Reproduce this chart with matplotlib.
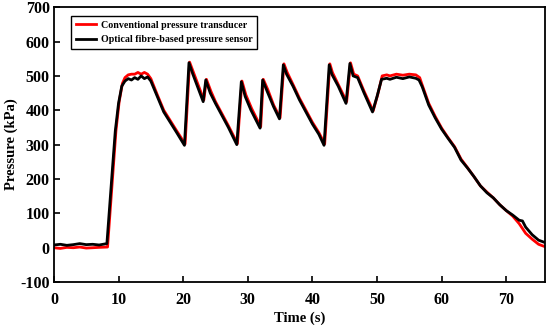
import matplotlib
matplotlib.use('Agg')
import matplotlib.pyplot as plt

# optical fibre sensor (black)
t_opt = [0, 1, 2, 3, 4, 5, 6, 7, 8.2, 9.0, 9.5, 10, 10.5, 11, 11.5, 12, 12.5, 13, 13.5,
         14, 14.5, 15, 16, 17, 18, 19, 20.2, 20.9, 21.5, 22.3, 23.1, 23.5, 24.2, 25, 26,
         27, 28.3, 29.0, 29.6, 30.5, 31.9, 32.3, 33, 34, 34.9, 35.5, 36, 37, 38, 39, 40,
         41, 41.8, 42.6, 43, 44, 45.2, 45.8, 46.3, 47, 48, 49.3, 50, 50.7, 51.5, 52, 53,
         54, 55, 56, 56.5, 57, 58, 59, 60, 61, 62, 63, 64, 65, 66, 67, 68, 69, 70, 71,
         72, 72.5, 73, 74, 75, 76]
p_opt = [8, 10, 7, 9, 12, 9, 10, 8, 12, 215, 340, 420, 470, 485, 492, 488, 495, 490, 500,
         492, 497, 485, 440, 395, 365, 335, 298, 538, 505, 465, 425, 488, 450, 420, 385,
         350, 300, 483, 440, 400, 348, 488, 455, 410, 375, 532, 505, 470, 430, 395, 360,
         330, 298, 532, 505, 470, 420, 536, 500, 495, 450, 395, 440, 490, 493, 490, 496,
         492, 497, 493, 488, 468, 415, 378, 345, 318, 292, 255, 232, 207, 180, 160, 145,
         125, 108, 95, 80, 78, 60, 38, 22, 15]

# conventional transducer (red)
t_conv = [0, 1, 2, 3, 4, 5, 6, 7, 8.3, 9.1, 9.6, 10.1, 10.6, 11, 11.5, 12, 12.5, 13, 13.5,
          14, 14.5, 15, 16, 17, 18, 19, 20.3, 21.0, 21.6, 22.4, 23.2, 23.6, 24.3, 25, 26,
          27, 28.4, 29.1, 29.7, 30.6, 32.0, 32.4, 33.1, 34, 35.0, 35.6, 36.1, 37, 38, 39,
          40, 41, 41.9, 42.7, 43.1, 44, 45.3, 45.9, 46.4, 47, 48, 49.4, 50.1, 50.8, 51.5,
          52, 53, 54, 55, 56, 56.6, 57, 58, 59, 60, 61, 62, 63, 64, 65, 66, 67, 68, 69,
          70, 71, 72, 73, 74, 75, 76]
p_conv = [0, -2, 1, 0, 2, -1, 0, 1, 2, 210, 340, 425, 478, 495, 503, 505, 505, 510, 505,
          510, 505, 492, 445, 400, 370, 340, 302, 540, 510, 470, 430, 490, 455, 425, 390,
          355, 303, 485, 445, 405, 352, 490, 460, 415, 378, 535, 510, 475, 435, 400, 365,
          335, 302, 535, 510, 475, 425, 538, 505, 500, 455, 398, 445, 500, 503, 500, 505,
          502, 505, 503, 495, 473, 420, 382, 348, 320, 294, 258, 233, 207, 180, 162, 145,
          125, 108, 92, 70, 42, 25, 10, 3]

plt.rcParams['font.family'] = ['Liberation Serif', 'DejaVu Serif']
plt.rcParams['font.weight'] = 'bold'
plt.rcParams['axes.unicode_minus'] = False

fig = plt.figure(figsize=(5.5, 3.25), dpi=100)
ax = fig.add_axes([0.098, 0.132, 0.893, 0.846])

ax.plot(t_conv, p_conv, color='red', lw=2, label='Conventional pressure transducer')
ax.plot(t_opt, p_opt, color='black', lw=2, label='Optical fibre-based pressure sensor')

ax.set_xlim(0, 76)
ax.set_ylim(-100, 700)
ax.set_xticks(range(0, 80, 10))
ax.set_yticks(range(-100, 800, 100))
ax.tick_params(direction='in', length=4, width=1.2, labelsize=11.5)
ax.tick_params(axis='x', pad=7)
ax.tick_params(axis='y', pad=3)
for lbl in ax.get_xticklabels() + ax.get_yticklabels():
    lbl.set_fontweight('bold')
for s in ax.spines.values():
    s.set_linewidth(1.3)

ax.set_xlabel('Time (s)', fontsize=10.5, fontweight='bold', labelpad=3)
ax.set_ylabel('Pressure (kPa)', fontsize=10.5, fontweight='bold')
ax.yaxis.set_label_coords(-0.074, 0.5)

leg = ax.legend(loc='upper left', bbox_to_anchor=(0.025, 0.985), fancybox=False,
                edgecolor='black', framealpha=1, prop={'size': 7.2, 'weight': 'bold'},
                handlelength=2.0, handletextpad=0.5, borderpad=0.45, labelspacing=0.55)
leg.get_frame().set_linewidth(1.0)

fig.savefig('out.png', dpi=100)
